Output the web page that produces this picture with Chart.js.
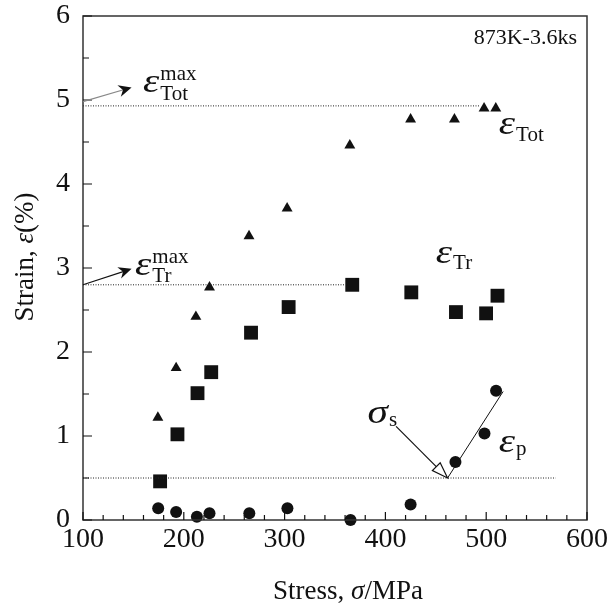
<!DOCTYPE html>
<html>
<head>
<meta charset="utf-8">
<script src="https://cdn.jsdelivr.net/npm/chart.js@4/dist/chart.umd.min.js"></script>
<style>
  html, body { margin: 0; padding: 0; background: #fff; }
  canvas { display: block; }
</style>
</head>
<body>
<canvas id="strainChart" width="607" height="610"></canvas>
<script>
// total strain (triangles)
const totStress = [174.3, 192.4, 212, 225.5, 264.7, 302.5, 364.7, 425, 468.5, 497.9, 509.5];
const totStrain = [1.22, 1.81, 2.42, 2.77, 3.38, 3.71, 4.46, 4.77, 4.77, 4.90, 4.90];
// transformation strain (squares)
const trStress = [176.5, 193.7, 213.6, 227.2, 266.7, 304, 367.1, 425.7, 470, 499.9, 511.2];
const trStrain = [0.46, 1.02, 1.51, 1.76, 2.23, 2.535, 2.80, 2.71, 2.475, 2.46, 2.67];
// plastic strain (circles)
const pStress = [174.6, 192.4, 213, 225.5, 265, 302.8, 365.4, 425, 469.5, 498.3, 509.8];
const pStrain = [0.14, 0.095, 0.04, 0.08, 0.08, 0.14, 0.0, 0.185, 0.69, 1.03, 1.54];

// dotted reference levels: [x0, x1, y]
const totMaxLine = [100, 493, 4.93];
const trMaxLine = [100, 360, 2.80];
const sigmaSLine = [100, 569, 0.5];
// line through the plastic strain points
const pFitX = [461.7, 516.8];
const pFitY = [0.50, 1.53];

const xTicks = [100, 200, 300, 400, 500, 600];
const yTicks = [0, 1, 2, 3, 4, 5, 6];

const ink = "#111";
const serif = "'Liberation Serif', 'Times New Roman', serif";

function pts(xs, ys) {
  return xs.map((x, i) => ({ x, y: ys[i] }));
}
function levelLine(l) {
  return [{ x: l[0], y: l[2] }, { x: l[1], y: l[2] }];
}

const dotted = (data) => ({
  type: "line",
  data,
  borderColor: "#222",
  borderWidth: 1,
  borderDash: [1, 1.5],
  pointRadius: 0,
  fill: false
});

// symbol labels: main glyph, subscript, superscript, anchor in data units
const labels = [
  { main: "\u03b5", sub: "Tot", sup: "max", x: 159.6, y: 5.10, subDy: 8, supDy: -12 },
  { main: "\u03b5", sub: "Tr", sup: "max", x: 151.7, y: 2.92, subDy: 7, supDy: -12 },
  { main: "\u03b5", sub: "Tot", x: 512.5, y: 4.60, subDy: 7 },
  { main: "\u03b5", sub: "Tr", x: 450, y: 3.06, subDy: 6 },
  { main: "\u03c3", sub: "s", x: 382.3, y: 1.16, subDy: 3 },
  { main: "\u03b5", sub: "p", x: 512.5, y: 0.815, subDy: 3 }
];

// arrows: from -> to in data units
const arrows = [
  { from: [100, 4.98], to: [148.2, 5.15], color: "#888", head: "barb" },
  { from: [100, 2.80], to: [148.2, 2.99], color: ink, head: "barb" },
  { from: [410.6, 1.115], to: [461.7, 0.50], color: ink, head: "open" }
];

const decorations = {
  id: "decorations",
  afterDatasetsDraw(chart) {
    const { ctx, chartArea: a, scales: { x, y } } = chart;
    ctx.save();

    // frame
    ctx.strokeStyle = "#333";
    ctx.lineWidth = 1.5;
    ctx.strokeRect(a.left, a.top, a.right - a.left, a.bottom - a.top);

    // inward ticks
    ctx.strokeStyle = ink;
    ctx.lineWidth = 1.2;
    ctx.beginPath();
    for (let v = 100; v <= 600; v += 20) {
      const px = x.getPixelForValue(v);
      const len = v % 100 === 0 ? 8 : 5;
      ctx.moveTo(px, a.bottom);
      ctx.lineTo(px, a.bottom - len);
    }
    for (let v = 0; v <= 6; v += 0.5) {
      const py = y.getPixelForValue(v);
      const len = Number.isInteger(v) ? 9 : 6;
      ctx.moveTo(a.left, py);
      ctx.lineTo(a.left + len, py);
    }
    ctx.stroke();

    // arrows
    arrows.forEach((ar) => {
      const x0 = x.getPixelForValue(ar.from[0]), y0 = y.getPixelForValue(ar.from[1]);
      const x1 = x.getPixelForValue(ar.to[0]), y1 = y.getPixelForValue(ar.to[1]);
      const ang = Math.atan2(y1 - y0, x1 - x0);
      ctx.strokeStyle = ar.color;
      ctx.lineWidth = 1.2;
      ctx.beginPath();
      ctx.moveTo(x0, y0);
      if (ar.head === "open") {
        ctx.lineTo(x1 - 15 * Math.cos(ang), y1 - 15 * Math.sin(ang));
      } else {
        ctx.lineTo(x1 - 4 * Math.cos(ang), y1 - 4 * Math.sin(ang));
      }
      ctx.stroke();
      ctx.save();
      ctx.translate(x1, y1);
      ctx.rotate(ang);
      ctx.beginPath();
      if (ar.head === "open") {
        ctx.moveTo(0, 0);
        ctx.lineTo(-16, -5.5);
        ctx.lineTo(-16, 5.5);
        ctx.closePath();
        ctx.fillStyle = "#fff";
        ctx.fill();
        ctx.strokeStyle = ink;
        ctx.lineWidth = 1.2;
        ctx.stroke();
      } else {
        ctx.moveTo(0, 0);
        ctx.lineTo(-13, -6);
        ctx.lineTo(-9, 0);
        ctx.lineTo(-13, 6);
        ctx.closePath();
        ctx.fillStyle = ink;
        ctx.fill();
      }
      ctx.restore();
    });

    // symbol labels (greek glyph drawn a bit wider, like the original)
    ctx.fillStyle = ink;
    ctx.textBaseline = "alphabetic";
    ctx.textAlign = "left";
    labels.forEach((l) => {
      const px = x.getPixelForValue(l.x), py = y.getPixelForValue(l.y);
      ctx.font = "italic 33px " + serif;
      const w = ctx.measureText(l.main).width * 1.25 + 1;
      ctx.save();
      ctx.translate(px, py);
      ctx.scale(1.25, 1);
      ctx.fillText(l.main, 0, 0);
      ctx.restore();
      ctx.font = "21px " + serif;
      if (l.sub) ctx.fillText(l.sub, px + w, py + l.subDy);
      if (l.sup) ctx.fillText(l.sup, px + w, py + l.supDy);
    });

    // condition label
    ctx.font = "22px " + serif;
    ctx.textAlign = "right";
    ctx.fillText("873K-3.6ks", 577, 44);

    ctx.restore();
  },
  afterDraw(chart) {
    const { ctx } = chart;
    ctx.save();
    ctx.fillStyle = ink;
    ctx.textBaseline = "alphabetic";
    ctx.textAlign = "left";

    // x title with italic sigma
    const parts = [["Stress, ", ""], ["\u03c3", "italic "], ["/MPa", ""]];
    let total = 0;
    parts.forEach((p) => { ctx.font = p[1] + "27px " + serif; total += ctx.measureText(p[0]).width; });
    let cx = 348 - total / 2;
    parts.forEach((p) => {
      ctx.font = p[1] + "27px " + serif;
      ctx.fillText(p[0], cx, 599);
      cx += ctx.measureText(p[0]).width;
    });

    // y title, rotated, with italic epsilon
    const yParts = [["Strain, ", ""], ["\u03b5", "italic "], ["(%)", ""]];
    total = 0;
    yParts.forEach((p) => { ctx.font = p[1] + "27px " + serif; total += ctx.measureText(p[0]).width; });
    ctx.translate(33, 257);
    ctx.rotate(-Math.PI / 2);
    cx = -total / 2;
    yParts.forEach((p) => {
      ctx.font = p[1] + "27px " + serif;
      ctx.fillText(p[0], cx, 0);
      cx += ctx.measureText(p[0]).width;
    });
    ctx.restore();
  }
};

const tickFont = { family: serif, size: 28 };

new Chart(document.getElementById("strainChart").getContext("2d"), {
  type: "scatter",
  data: {
    datasets: [
      dotted(levelLine(totMaxLine)),
      dotted(levelLine(trMaxLine)),
      dotted(levelLine(sigmaSLine)),
      {
        type: "line",
        data: pts(pFitX, pFitY),
        borderColor: ink,
        borderWidth: 1,
        pointRadius: 0,
        fill: false
      },
      {
        label: "Tot",
        data: pts(totStress, totStrain),
        pointStyle: "triangle",
        pointRadius: 6.3,
        backgroundColor: ink,
        borderColor: ink,
        borderWidth: 0,
        clip: false
      },
      {
        label: "Tr",
        data: pts(trStress, trStrain),
        pointStyle: "rect",
        pointRadius: 9.8,
        backgroundColor: ink,
        borderColor: ink,
        borderWidth: 0,
        clip: false
      },
      {
        label: "p",
        data: pts(pStress, pStrain),
        pointStyle: "circle",
        pointRadius: 6,
        backgroundColor: ink,
        borderColor: ink,
        borderWidth: 0,
        clip: false
      }
    ]
  },
  options: {
    responsive: false,
    animation: false,
    events: [],
    layout: { padding: { top: 16, right: 20, left: 0, bottom: 0 } },
    plugins: { legend: { display: false }, tooltip: { enabled: false } },
    scales: {
      x: {
        type: "linear",
        min: 100,
        max: 600,
        afterFit: (s) => { s.height = 90; s.paddingLeft = 0; s.paddingRight = 0; },
        afterBuildTicks: (s) => { s.ticks = xTicks.map((v) => ({ value: v })); },
        grid: { display: false, drawTicks: false },
        border: { display: false },
        ticks: { font: tickFont, color: ink, padding: 3, maxRotation: 0, autoSkip: false }
      },
      y: {
        type: "linear",
        min: 0,
        max: 6,
        afterFit: (s) => { s.width = 83; s.paddingTop = 0; s.paddingBottom = 0; },
        afterBuildTicks: (s) => { s.ticks = yTicks.map((v) => ({ value: v })); },
        grid: { display: false, drawTicks: false },
        border: { display: false },
        ticks: { font: tickFont, color: ink, padding: 13 }
      }
    }
  },
  plugins: [decorations]
});
</script>
</body>
</html>
